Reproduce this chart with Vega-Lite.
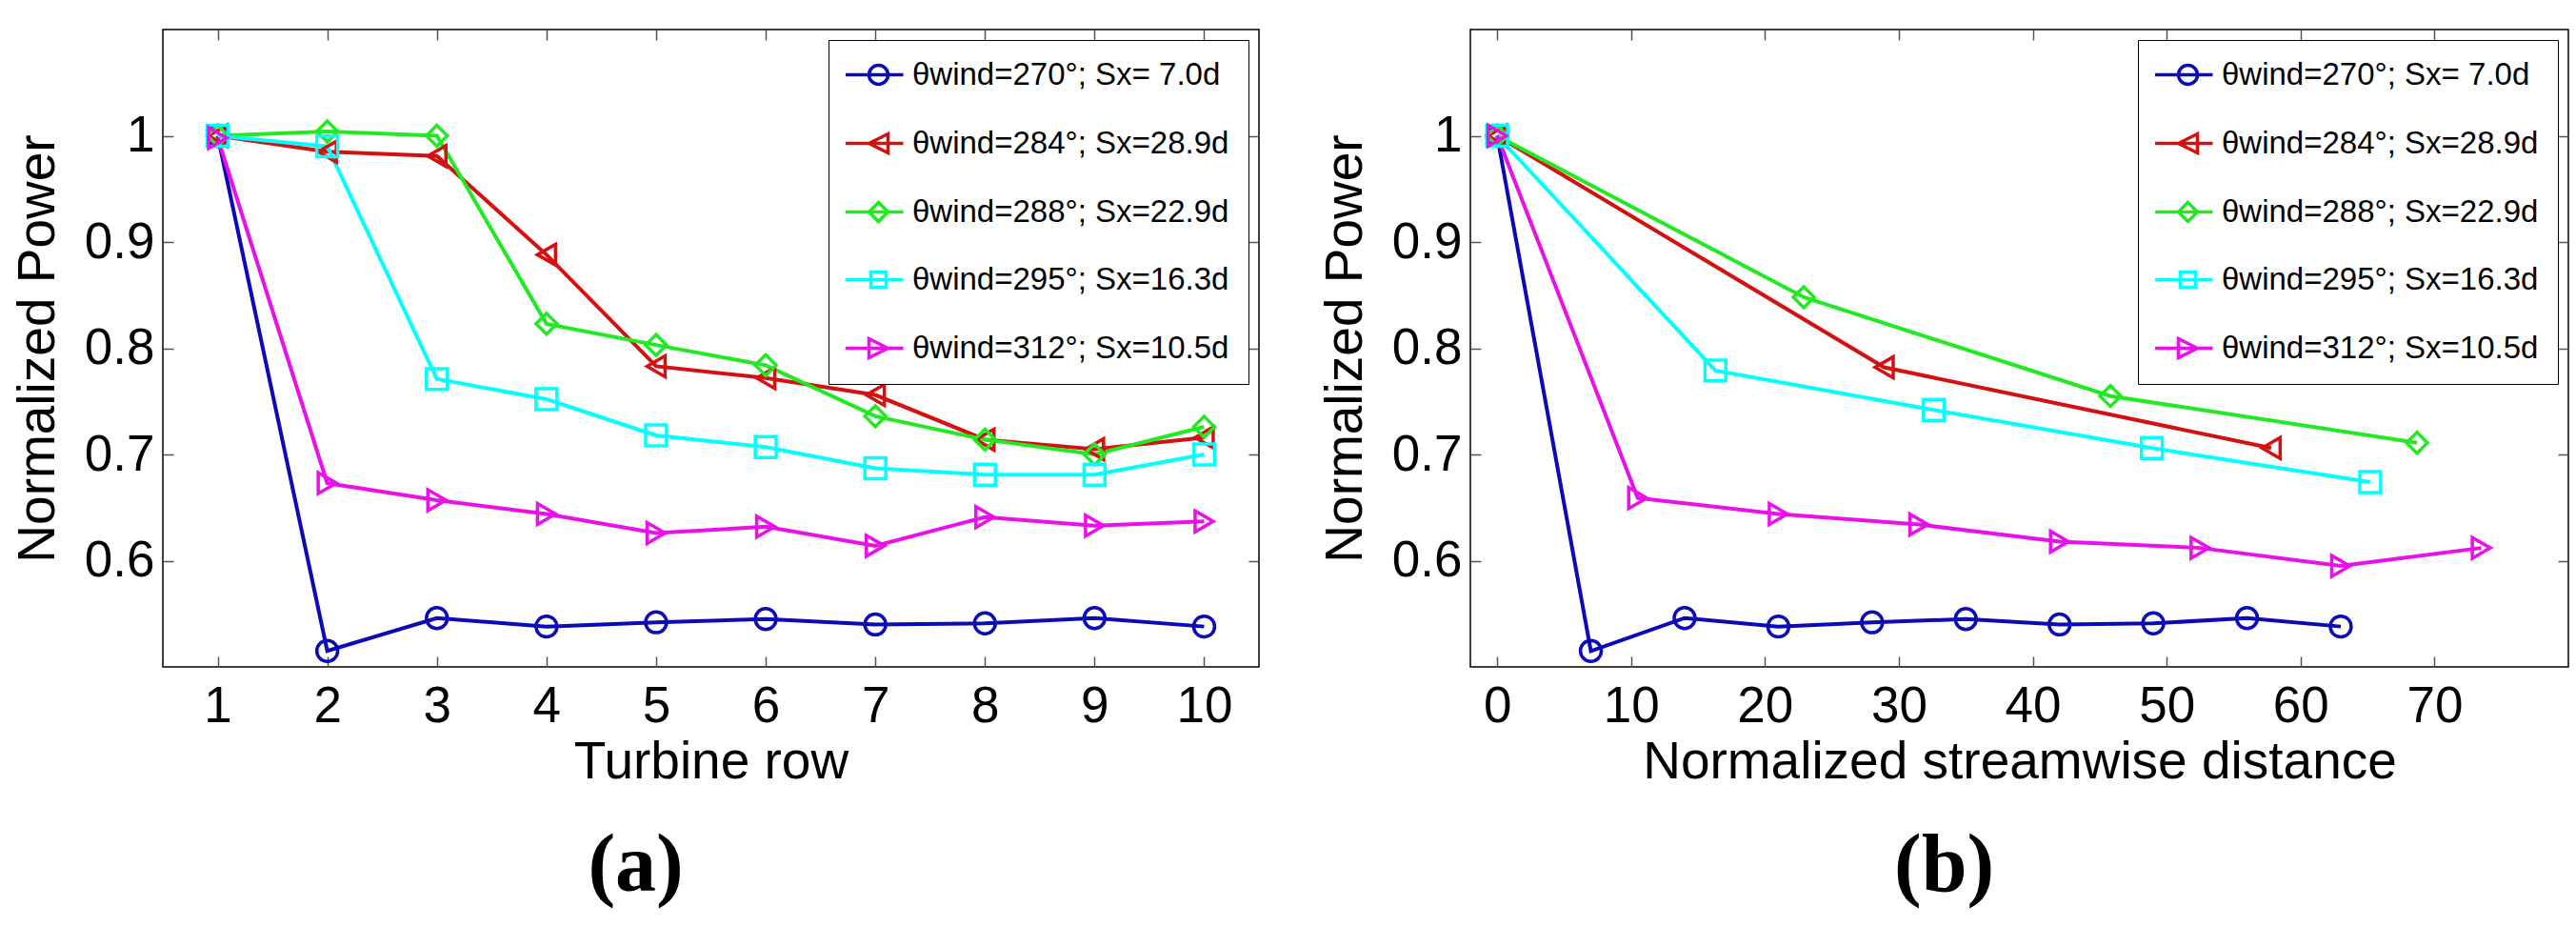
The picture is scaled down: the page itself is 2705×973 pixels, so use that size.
{
  "$schema": "https://vega.github.io/schema/vega-lite/v6.json",
  "background": "white",
  "padding": {"left": 11, "top": 29, "right": 18, "bottom": 5},
  "datasets": {
    "power": [
      {"panel": "a", "series": "270", "x": 1, "y": 1.0},
      {"panel": "a", "series": "270", "x": 2, "y": 0.515},
      {"panel": "a", "series": "270", "x": 3, "y": 0.546},
      {"panel": "a", "series": "270", "x": 4, "y": 0.538},
      {"panel": "a", "series": "270", "x": 5, "y": 0.542},
      {"panel": "a", "series": "270", "x": 6, "y": 0.545},
      {"panel": "a", "series": "270", "x": 7, "y": 0.540},
      {"panel": "a", "series": "270", "x": 8, "y": 0.541},
      {"panel": "a", "series": "270", "x": 9, "y": 0.546},
      {"panel": "a", "series": "270", "x": 10, "y": 0.538},
      {"panel": "a", "series": "284", "x": 1, "y": 1.0},
      {"panel": "a", "series": "284", "x": 2, "y": 0.985},
      {"panel": "a", "series": "284", "x": 3, "y": 0.981},
      {"panel": "a", "series": "284", "x": 4, "y": 0.888},
      {"panel": "a", "series": "284", "x": 5, "y": 0.783},
      {"panel": "a", "series": "284", "x": 6, "y": 0.772},
      {"panel": "a", "series": "284", "x": 7, "y": 0.756},
      {"panel": "a", "series": "284", "x": 8, "y": 0.714},
      {"panel": "a", "series": "284", "x": 9, "y": 0.705},
      {"panel": "a", "series": "284", "x": 10, "y": 0.716},
      {"panel": "a", "series": "288", "x": 1, "y": 1.0},
      {"panel": "a", "series": "288", "x": 2, "y": 1.004},
      {"panel": "a", "series": "288", "x": 3, "y": 1.0},
      {"panel": "a", "series": "288", "x": 4, "y": 0.823},
      {"panel": "a", "series": "288", "x": 5, "y": 0.803},
      {"panel": "a", "series": "288", "x": 6, "y": 0.784},
      {"panel": "a", "series": "288", "x": 7, "y": 0.736},
      {"panel": "a", "series": "288", "x": 8, "y": 0.714},
      {"panel": "a", "series": "288", "x": 9, "y": 0.700},
      {"panel": "a", "series": "288", "x": 10, "y": 0.726},
      {"panel": "a", "series": "295", "x": 1, "y": 1.0},
      {"panel": "a", "series": "295", "x": 2, "y": 0.990},
      {"panel": "a", "series": "295", "x": 3, "y": 0.771},
      {"panel": "a", "series": "295", "x": 4, "y": 0.752},
      {"panel": "a", "series": "295", "x": 5, "y": 0.718},
      {"panel": "a", "series": "295", "x": 6, "y": 0.707},
      {"panel": "a", "series": "295", "x": 7, "y": 0.687},
      {"panel": "a", "series": "295", "x": 8, "y": 0.681},
      {"panel": "a", "series": "295", "x": 9, "y": 0.681},
      {"panel": "a", "series": "295", "x": 10, "y": 0.700},
      {"panel": "a", "series": "312", "x": 1, "y": 0.998},
      {"panel": "a", "series": "312", "x": 2, "y": 0.673},
      {"panel": "a", "series": "312", "x": 3, "y": 0.657},
      {"panel": "a", "series": "312", "x": 4, "y": 0.644},
      {"panel": "a", "series": "312", "x": 5, "y": 0.626},
      {"panel": "a", "series": "312", "x": 6, "y": 0.632},
      {"panel": "a", "series": "312", "x": 7, "y": 0.614},
      {"panel": "a", "series": "312", "x": 8, "y": 0.641},
      {"panel": "a", "series": "312", "x": 9, "y": 0.633},
      {"panel": "a", "series": "312", "x": 10, "y": 0.637},
      {"panel": "b", "series": "270", "x": 0, "y": 1.0},
      {"panel": "b", "series": "270", "x": 7, "y": 0.515},
      {"panel": "b", "series": "270", "x": 14, "y": 0.546},
      {"panel": "b", "series": "270", "x": 21, "y": 0.538},
      {"panel": "b", "series": "270", "x": 28, "y": 0.542},
      {"panel": "b", "series": "270", "x": 35, "y": 0.545},
      {"panel": "b", "series": "270", "x": 42, "y": 0.540},
      {"panel": "b", "series": "270", "x": 49, "y": 0.541},
      {"panel": "b", "series": "270", "x": 56, "y": 0.546},
      {"panel": "b", "series": "270", "x": 63, "y": 0.538},
      {"panel": "b", "series": "284", "x": 0, "y": 1.0},
      {"panel": "b", "series": "284", "x": 28.9, "y": 0.782},
      {"panel": "b", "series": "284", "x": 57.8, "y": 0.706},
      {"panel": "b", "series": "288", "x": 0, "y": 1.0},
      {"panel": "b", "series": "288", "x": 22.9, "y": 0.848},
      {"panel": "b", "series": "288", "x": 45.8, "y": 0.755},
      {"panel": "b", "series": "288", "x": 68.7, "y": 0.711},
      {"panel": "b", "series": "295", "x": 0, "y": 1.0},
      {"panel": "b", "series": "295", "x": 16.3, "y": 0.779},
      {"panel": "b", "series": "295", "x": 32.6, "y": 0.742},
      {"panel": "b", "series": "295", "x": 48.9, "y": 0.706},
      {"panel": "b", "series": "295", "x": 65.2, "y": 0.674},
      {"panel": "b", "series": "312", "x": 0, "y": 1.0},
      {"panel": "b", "series": "312", "x": 10.5, "y": 0.659},
      {"panel": "b", "series": "312", "x": 21, "y": 0.644},
      {"panel": "b", "series": "312", "x": 31.5, "y": 0.634},
      {"panel": "b", "series": "312", "x": 42, "y": 0.618},
      {"panel": "b", "series": "312", "x": 52.5, "y": 0.612},
      {"panel": "b", "series": "312", "x": 63, "y": 0.595},
      {"panel": "b", "series": "312", "x": 73.5, "y": 0.612}
    ]
  },
  "hconcat": [
    {
      "width": 1151,
      "height": 669,
      "data": {"name": "power"},
      "transform": [{"filter": "datum.panel === 'a'"}],
      "title": {"text": "(a)", "orient": "bottom", "anchor": "middle", "frame": "bounds", "font": "Liberation Serif", "fontWeight": "bold", "fontSize": 86, "offset": 40, "color": "black"},
      "encoding": {
        "color": {"field": "series", "type": "nominal",
          "scale": {"domain": ["270", "284", "288", "295", "312"], "range": ["#0a0ab8", "#d41010", "#22ea22", "#00ffff", "#ea10ea"]},
          "legend": {
            "orient": "top-right", "offset": 11, "title": null, "padding": 20, "rowPadding": 37,
            "labelFont": "Liberation Sans", "labelFontSize": 33, "labelColor": "black", "labelLimit": 1000, "labelOffset": 19,
            "symbolOffset": 16, "symbolSize": 400, "symbolStrokeWidth": 3.5,
            "fillColor": "white", "strokeColor": "black",
            "labelExpr": "datum.value === '270' ? 'θwind=270°; Sx= 7.0d' : datum.value === '284' ? 'θwind=284°; Sx=28.9d' : datum.value === '288' ? 'θwind=288°; Sx=22.9d' : datum.value === '295' ? 'θwind=295°; Sx=16.3d' : 'θwind=312°; Sx=10.5d'",
            "encode": {"symbols": {"update": {
              "fill": {"value": "transparent"},
              "shape": {"signal": "datum.value === '270' ? 'M-3.45,0L2.6,0M1,0A1,1 0 1,1 -1,0A1,1 0 1,1 1,0' : datum.value === '284' ? 'M-3.45,0L2.6,0M-1,0L1,-1L1,1Z' : datum.value === '288' ? 'M-3.45,0L2.6,0M0,-1L1,0L0,1L-1,0Z' : datum.value === '295' ? 'M-3.45,0L2.6,0M-0.8,-0.8L0.8,-0.8L0.8,0.8L-0.8,0.8Z' : 'M-3.45,0L2.6,0M1,0L-1,-1L-1,1Z'"}
            }}}
          }}
      },
      "layer": [
        {
          "mark": {"type": "line", "strokeWidth": 4},
          "encoding": {
            "x": {"field": "x", "type": "quantitative", "scale": {"domain": [0.5, 10.5], "nice": false, "zero": false},
              "axis": {"orient": "bottom", "values": [1, 2, 3, 4, 5, 6, 7, 8, 9, 10], "title": "Turbine row", "labelPadding": 26, "titlePadding": 5}},
            "y": {"field": "y", "type": "quantitative", "scale": {"domain": [0.5, 1.1], "nice": false, "zero": false},
              "axis": {"orient": "left", "values": [0.6, 0.7, 0.8, 0.9, 1], "format": "~g", "title": "Normalized Power", "labelPadding": 20, "titlePadding": 20}}
          }
        },
        {
          "mark": {"type": "point", "filled": false, "size": 480, "strokeWidth": 3.5, "opacity": 1},
          "encoding": {
            "x": {"field": "x", "type": "quantitative", "scale": {"domain": [0.5, 10.5], "nice": false, "zero": false},
              "axis": {"orient": "top", "values": [1, 2, 3, 4, 5, 6, 7, 8, 9, 10], "labels": false, "title": null}},
            "y": {"field": "y", "type": "quantitative", "scale": {"domain": [0.5, 1.1], "nice": false, "zero": false},
              "axis": {"orient": "right", "values": [0.6, 0.7, 0.8, 0.9, 1], "labels": false, "title": null}},
            "shape": {
              "condition": [
                {"test": "datum.series === '284'", "value": "triangle-left"},
                {"test": "datum.series === '288'", "value": "diamond"},
                {"test": "datum.series === '295'", "value": "square"},
                {"test": "datum.series === '312'", "value": "triangle-right"}
              ],
              "value": "circle"
            }
          }
        }
      ],
      "resolve": {"axis": {"x": "independent", "y": "independent"}}
    },
    {
      "width": 1153,
      "height": 669,
      "data": {"name": "power"},
      "transform": [{"filter": "datum.panel === 'b'"}],
      "title": {"text": "(b)", "orient": "bottom", "anchor": "middle", "frame": "bounds", "font": "Liberation Serif", "fontWeight": "bold", "fontSize": 86, "offset": 40, "color": "black"},
      "encoding": {
        "color": {"field": "series", "type": "nominal",
          "scale": {"domain": ["270", "284", "288", "295", "312"], "range": ["#0a0ab8", "#d41010", "#22ea22", "#00ffff", "#ea10ea"]},
          "legend": {
            "orient": "top-right", "offset": 11, "title": null, "padding": 20, "rowPadding": 37,
            "labelFont": "Liberation Sans", "labelFontSize": 33, "labelColor": "black", "labelLimit": 1000, "labelOffset": 19,
            "symbolOffset": 16, "symbolSize": 400, "symbolStrokeWidth": 3.5,
            "fillColor": "white", "strokeColor": "black",
            "labelExpr": "datum.value === '270' ? 'θwind=270°; Sx= 7.0d' : datum.value === '284' ? 'θwind=284°; Sx=28.9d' : datum.value === '288' ? 'θwind=288°; Sx=22.9d' : datum.value === '295' ? 'θwind=295°; Sx=16.3d' : 'θwind=312°; Sx=10.5d'",
            "encode": {"symbols": {"update": {
              "fill": {"value": "transparent"},
              "shape": {"signal": "datum.value === '270' ? 'M-3.45,0L2.6,0M1,0A1,1 0 1,1 -1,0A1,1 0 1,1 1,0' : datum.value === '284' ? 'M-3.45,0L2.6,0M-1,0L1,-1L1,1Z' : datum.value === '288' ? 'M-3.45,0L2.6,0M0,-1L1,0L0,1L-1,0Z' : datum.value === '295' ? 'M-3.45,0L2.6,0M-0.8,-0.8L0.8,-0.8L0.8,0.8L-0.8,0.8Z' : 'M-3.45,0L2.6,0M1,0L-1,-1L-1,1Z'"}
            }}}
          }}
      },
      "layer": [
        {
          "mark": {"type": "line", "strokeWidth": 4},
          "encoding": {
            "x": {"field": "x", "type": "quantitative", "scale": {"domain": [-2, 80], "nice": false, "zero": false},
              "axis": {"orient": "bottom", "values": [0, 10, 20, 30, 40, 50, 60, 70], "title": "Normalized streamwise distance", "labelPadding": 26, "titlePadding": 5}},
            "y": {"field": "y", "type": "quantitative", "scale": {"domain": [0.5, 1.1], "nice": false, "zero": false},
              "axis": {"orient": "left", "values": [0.6, 0.7, 0.8, 0.9, 1], "format": "~g", "title": "Normalized Power", "labelPadding": 20, "titlePadding": 20}}
          }
        },
        {
          "mark": {"type": "point", "filled": false, "size": 480, "strokeWidth": 3.5, "opacity": 1},
          "encoding": {
            "x": {"field": "x", "type": "quantitative", "scale": {"domain": [-2, 80], "nice": false, "zero": false},
              "axis": {"orient": "top", "values": [0, 10, 20, 30, 40, 50, 60, 70], "labels": false, "title": null}},
            "y": {"field": "y", "type": "quantitative", "scale": {"domain": [0.5, 1.1], "nice": false, "zero": false},
              "axis": {"orient": "right", "values": [0.6, 0.7, 0.8, 0.9, 1], "labels": false, "title": null}},
            "shape": {
              "condition": [
                {"test": "datum.series === '284'", "value": "triangle-left"},
                {"test": "datum.series === '288'", "value": "diamond"},
                {"test": "datum.series === '295'", "value": "square"},
                {"test": "datum.series === '312'", "value": "triangle-right"}
              ],
              "value": "circle"
            }
          }
        }
      ],
      "resolve": {"axis": {"x": "independent", "y": "independent"}}
    }
  ],
  "resolve": {"scale": {"color": "independent"}, "legend": {"color": "independent"}},
  "config": {
    "font": "Liberation Sans",
    "view": {"stroke": "black", "strokeWidth": 1.5},
    "concat": {"spacing": 60},
    "axis": {
      "grid": false, "domain": false, "tickSize": -11, "tickColor": "#555555", "tickWidth": 1.5,
      "labelFont": "Liberation Sans", "labelFontSize": 53, "labelColor": "black",
      "titleFont": "Liberation Sans", "titleFontSize": 55, "titleFontWeight": "normal", "titleColor": "black"
    }
  }
}
